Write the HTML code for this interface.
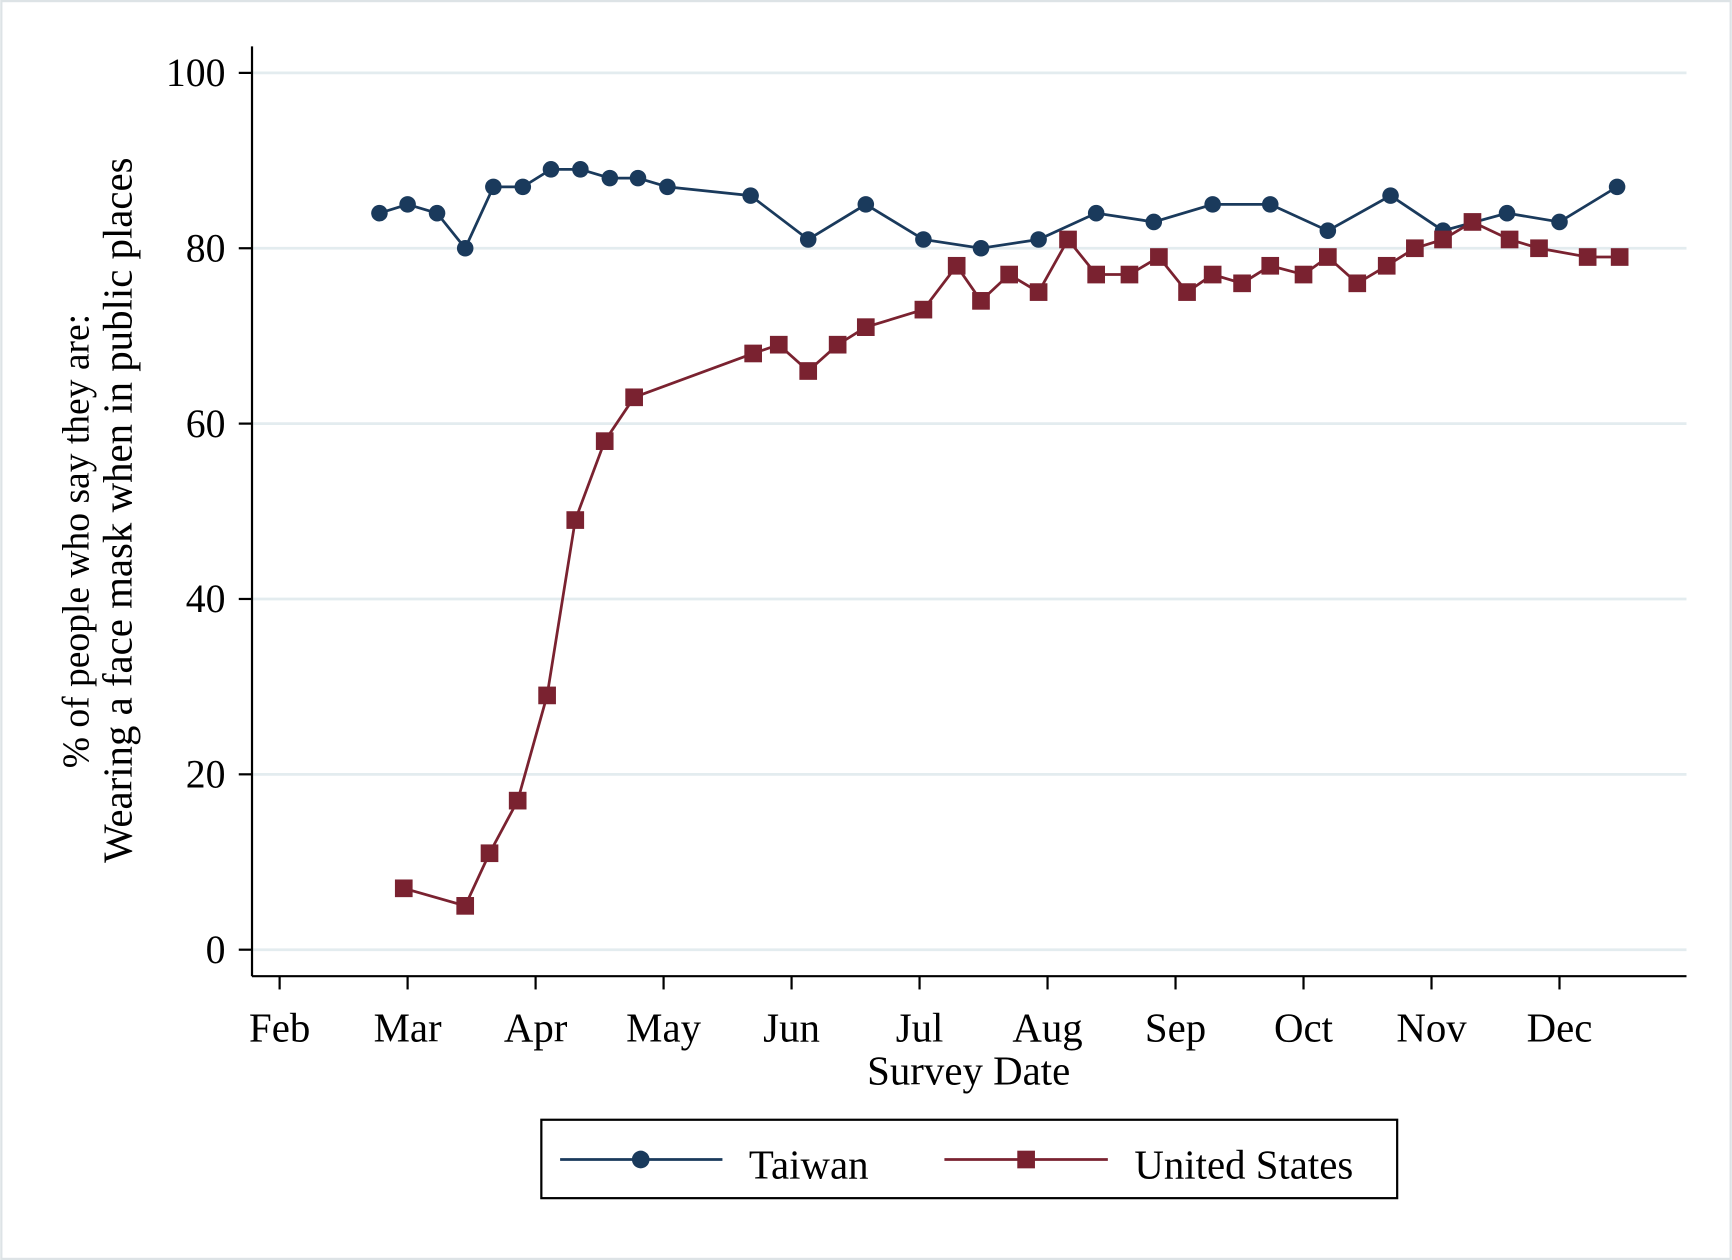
<!DOCTYPE html>
<html><head><meta charset="utf-8"><style>
html,body{margin:0;padding:0;background:#fff;}
svg{display:block;}
text{font-family:"Liberation Serif",serif;fill:#000;}
</style></head><body>
<svg id="chart" width="1732" height="1260" viewBox="0 0 1568 1141" xmlns="http://www.w3.org/2000/svg">
<rect x="1" y="1" width="1566" height="1139" fill="#fff" stroke="#dde3e6" stroke-width="2"/>
<g id="grid"></g>
<g id="yaxis"></g>
<g id="xaxis"></g>
<g id="series"></g>
<text transform="translate(80,490) rotate(-90)" text-anchor="middle" font-size="34">% of people who say they are:</text>
<text transform="translate(119,462) rotate(-90)" text-anchor="middle" font-size="37">Wearing a face mask when in public places</text>
<text x="877" y="982" text-anchor="middle" font-size="37">Survey Date</text>
<g>
<rect x="490" y="1014" width="775" height="71" fill="#fff" stroke="#000" stroke-width="2"/>
<g>
<line x1="507" y1="1050" x2="654" y2="1050" stroke="#1a3a5c" stroke-width="2.5"/>
<circle cx="580" cy="1050" r="8" fill="#1a3a5c"/>
<text x="678" y="1067" font-size="37">Taiwan</text></g>
<g>
<line x1="855" y1="1050" x2="1003" y2="1050" stroke="#7a2230" stroke-width="2.5"/>
<rect x="921" y="1042" width="16" height="16" fill="#7a2230"/>
<text x="1027" y="1067" font-size="37">United States</text></g>
</g>
</svg>
<script>
const monthLabels=["Feb","Mar","Apr","May","Jun","Jul","Aug","Sep","Oct","Nov","Dec"];
const yTicks=[0,20,40,60,80,100];
const taiwanX=[0.78,1.0,1.23,1.45,1.67,1.90,2.12,2.35,2.58,2.80,3.03,3.68,4.13,4.58,5.03,5.48,5.93,6.38,6.83,7.29,7.74,8.19,8.68,9.09,9.59,10.0,10.45];
const taiwanY=[84,85,84,80,87,87,89,89,88,88,87,86,81,85,81,80,81,84,83,85,85,82,86,82,84,83,87];
const usX=[0.97,1.45,1.64,1.86,2.09,2.31,2.54,2.77,3.70,3.90,4.13,4.36,4.58,5.03,5.29,5.48,5.70,5.93,6.16,6.38,6.64,6.87,7.09,7.29,7.52,7.74,8.0,8.19,8.42,8.65,8.87,9.09,9.32,9.61,9.84,10.22,10.47];
const usY=[7,5,11,17,29,49,58,63,68,69,66,69,71,73,78,74,77,75,81,77,77,79,75,77,76,78,77,79,76,78,80,81,83,81,80,79,79];
const NS="http://www.w3.org/2000/svg";
const xs=m=>253+m*115.9;
const ys=v=>860-v*7.94;
function mk(t,a,p){const e=document.createElementNS(NS,t);for(const k in a)e.setAttribute(k,a[k]);p.appendChild(e);return e;}
const grid=document.getElementById('grid'),ya=document.getElementById('yaxis'),xa=document.getElementById('xaxis'),se=document.getElementById('series');
mk('line',{x1:228,y1:42,x2:228,y2:884,stroke:'#000','stroke-width':2},ya);
mk('line',{x1:228,y1:884,x2:1527,y2:884,stroke:'#000','stroke-width':2},xa);
yTicks.forEach(v=>{
 const g=mk('line',{x1:229,x2:1527,y1:ys(v),y2:ys(v),stroke:'#e3ecef','stroke-width':2.5},grid);
 
 
 mk('line',{x1:216,x2:228,y1:ys(v),y2:ys(v),stroke:'#000','stroke-width':2},ya);
 const t=mk('text',{x:204,y:ys(v)+12,'text-anchor':'end','font-size':36},ya);t.textContent=v;
 
 
});
monthLabels.forEach((l,i)=>{
 mk('line',{x1:xs(i),x2:xs(i),y1:884,y2:896,stroke:'#000','stroke-width':2},xa);
 const t=mk('text',{x:xs(i),y:943,'text-anchor':'middle','font-size':37},xa);t.textContent=l;
 
 
});
function draw(X,Y,color,shape,name){
 const g=mk('g',{},se);
 
 
 mk('polyline',{points:X.map((x,i)=>xs(x)+','+ys(Y[i])).join(' '),fill:'none',stroke:color,'stroke-width':2.5},g);
 X.forEach((x,i)=>{
  let e;
  if(shape==='c') e=mk('circle',{cx:xs(x),cy:ys(Y[i]),r:7.5,fill:color},g);
  else e=mk('rect',{x:xs(x)-8,y:ys(Y[i])-8,width:16,height:16,fill:color},g);
  
  
 });
}
draw(taiwanX,taiwanY,'#1a3a5c','c','taiwan-series');
draw(usX,usY,'#7a2230','s','united-states-series');
</script>
</body></html>
